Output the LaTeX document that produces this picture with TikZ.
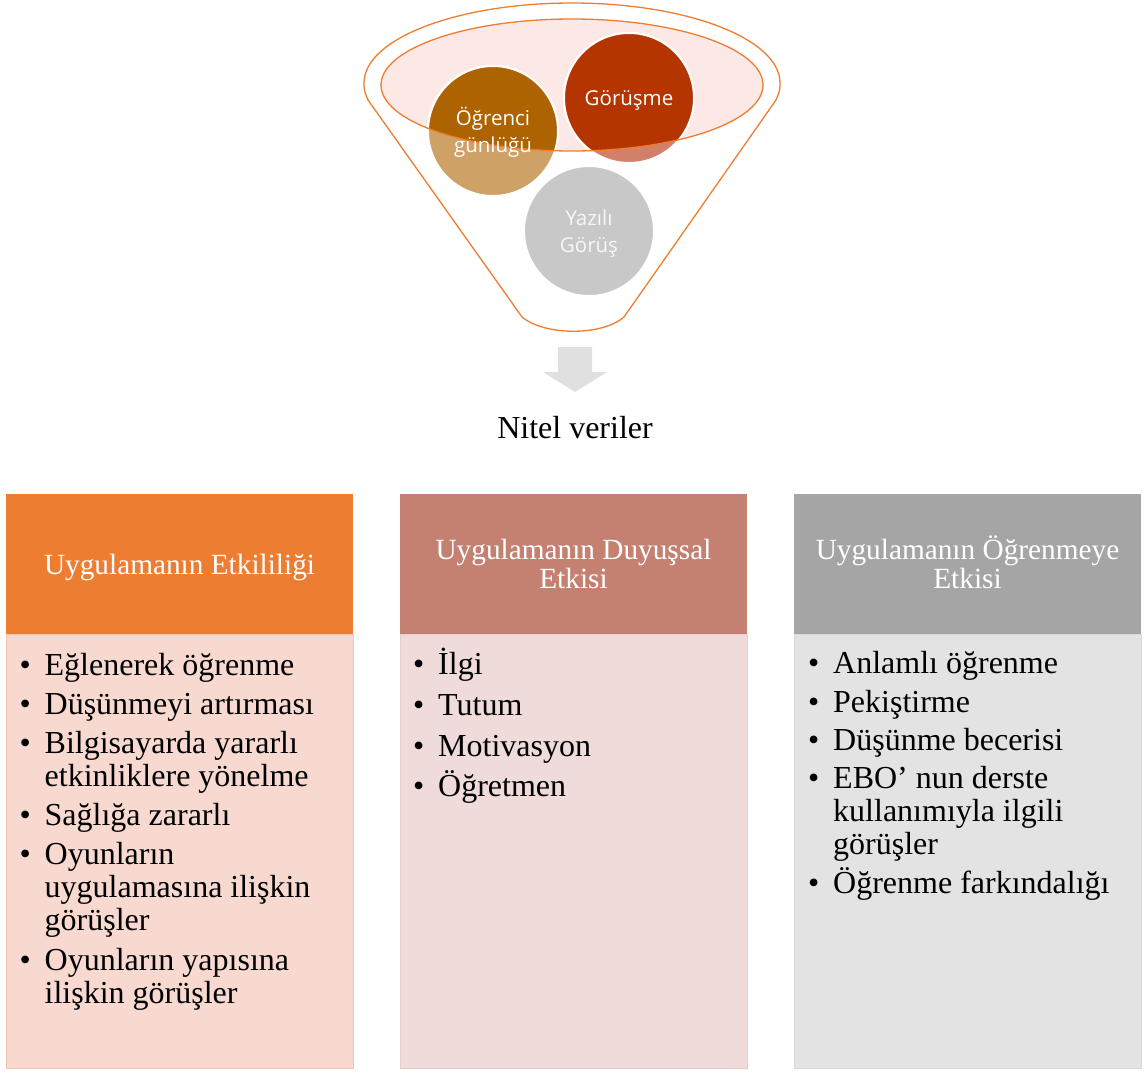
\documentclass[tikz,border=0pt]{standalone}
\usepackage{fontspec}
\setmainfont{Liberation Serif}
\newfontfamily\circfont{Open Sans}

\definecolor{funnelor}{HTML}{ED7D31}
\definecolor{rimfill}{HTML}{FCE9E5}
\definecolor{ogrdark}{HTML}{AD6400}
\definecolor{ogrlight}{HTML}{CEA166}
\definecolor{gordark}{HTML}{B43500}
\definecolor{gorlight}{HTML}{D3806A}
\definecolor{yazgray}{HTML}{C8C8C8}
\definecolor{arrowgray}{HTML}{E0E0E0}
\definecolor{headA}{HTML}{ED7D31}
\definecolor{bodyA}{HTML}{F8D9D0}
\definecolor{headB}{HTML}{C48172}
\definecolor{bodyB}{HTML}{EEDBDA}
\definecolor{headC}{HTML}{A5A5A5}
\definecolor{bodyC}{HTML}{E3E3E3}

\tikzset{
  bubble/.style={circle, minimum size=130pt, inner sep=0pt, draw=white, line width=2pt},
  bubbletext/.style={anchor=base, inner sep=0pt, text=white,
    font=\circfont\fontsize{20.5}{27}\selectfont},
  headbox/.style={anchor=north west, minimum width=347pt, minimum height=140pt,
    inner sep=0pt, draw=none},
  bodybox/.style={anchor=north west, minimum width=347pt, minimum height=434pt,
    inner sep=0pt, line width=1pt},
  headtext/.style={anchor=base, inner sep=0pt, text=white,
    font=\fontsize{29.3}{29.5}\selectfont},
  item/.style={anchor=base west, inner sep=0pt, font=\fontsize{32}{33}\selectfont},
}

% one bullet entry: bullet column followed by the (possibly broken) text
\newcommand{\bulletentry}[1]{\makebox[25pt][l]{\textbullet}\parbox[t]{300pt}{\raggedright #1}}

\begin{document}
\begin{tikzpicture}[x=1pt, y=-1pt]
\useasboundingbox (0,0) rectangle (1145,1071);

% ---------- funnel ----------
\draw[funnelor, line width=1.3pt] (364,83)
  arc[start angle=180, end angle=0, x radius=208pt, y radius=80pt]
  .. controls (780,90) .. (776,100)
  -- (624,317) .. controls (602,336) and (545,336) .. (522,317)
  -- (368,100) .. controls (364,90) .. (364,83);

\fill[rimfill] (572,85) ellipse [x radius=191pt, y radius=66pt];

% bubbles, pale where they fall outside the rim
\node[bubble, fill=ogrlight] (ogr) at (493,131) {};
\node[bubble, fill=gorlight] (gor) at (629,98) {};
\node[bubble, fill=yazgray] (yaz) at (589,231) {};

\begin{scope}
  \clip (572,85) ellipse [x radius=191pt, y radius=66pt];
  \node[bubble, fill=ogrdark] (ogrin) at (493,131) {};
  \node[bubble, fill=gordark] (gorin) at (629,98) {};
\end{scope}

\draw[funnelor, line width=1.3pt] (572,85) ellipse [x radius=191pt, y radius=66pt];

\node[bubbletext] (ogrt) at (493,125) {\parbox[t]{120pt}{\centering Öğrenci\\günlüğü}};
\node[bubbletext] (gort) at (629,105) {Görüşme};
\node[bubbletext, text=white!97!black] (yazt) at (589,225) {\parbox[t]{120pt}{\centering Yazılı\\Görüş}};

% ---------- arrow and caption ----------
\fill[arrowgray] (558,347) -- (592,347) -- (592,372) -- (607,372) -- (575,392)
  -- (543,372) -- (558,372) -- cycle;
\node[anchor=base, inner sep=0pt, font=\fontsize{32}{32}\selectfont] (nitel) at (575,438) {Nitel veriler};

% ---------- three columns ----------
\node[headbox, fill=headA] (hA) at (6,494) {};
\node[bodybox, fill=bodyA, draw=bodyA!80!headA] (bA) at (6,634) {};
\node[headbox, fill=headB] (hB) at (400,494) {};
\node[bodybox, fill=bodyB, draw=bodyB!85!headB] (bB) at (400,634) {};
\node[headbox, fill=headC] (hC) at (794,494) {};
\node[bodybox, fill=bodyC, draw=bodyC!85!headC] (bC) at (794,634) {};

\node[headtext] (tA) at (179.5,574) {Uygulamanın Etkililiği};
\node[headtext] (tB) at (573.5,559) {\parbox[t]{340pt}{\centering Uygulamanın Duyuşsal\\Etkisi}};
\node[headtext] (tC) at (967.5,559) {\parbox[t]{340pt}{\centering Uygulamanın Öğrenmeye\\Etkisi}};

% first column
\node[item] (a1) at (19.5,675) {\bulletentry{Eğlenerek öğrenme}};
\node[item] (a2) at (19.5,714) {\bulletentry{Düşünmeyi artırması}};
\node[item] (a3) at (19.5,753) {\bulletentry{Bilgisayarda yararlı\\etkinliklere yönelme}};
\node[item] (a4) at (19.5,825) {\bulletentry{Sağlığa zararlı}};
\node[item] (a5) at (19.5,864) {\bulletentry{Oyunların\\uygulamasına ilişkin\\görüşler}};
\node[item] (a6) at (19.5,970) {\bulletentry{Oyunların yapısına\\ilişkin görüşler}};

% second column
\node[item] (b1) at (413,674) {\bulletentry{İlgi}};
\node[item] (b2) at (413,715) {\bulletentry{Tutum}};
\node[item] (b3) at (413,756) {\bulletentry{Motivasyon}};
\node[item] (b4) at (413,796) {\bulletentry{Öğretmen}};

% third column
\node[item] (c1) at (808,673) {\bulletentry{Anlamlı öğrenme}};
\node[item] (c2) at (808,712) {\bulletentry{Pekiştirme}};
\node[item] (c3) at (808,750) {\bulletentry{Düşünme becerisi}};
\node[item] (c4) at (808,788) {\bulletentry{EBO’ nun derste\\kullanımıyla ilgili\\görüşler}};
\node[item] (c5) at (808,893) {\bulletentry{Öğrenme farkındalığı}};
\end{tikzpicture}
\end{document}
